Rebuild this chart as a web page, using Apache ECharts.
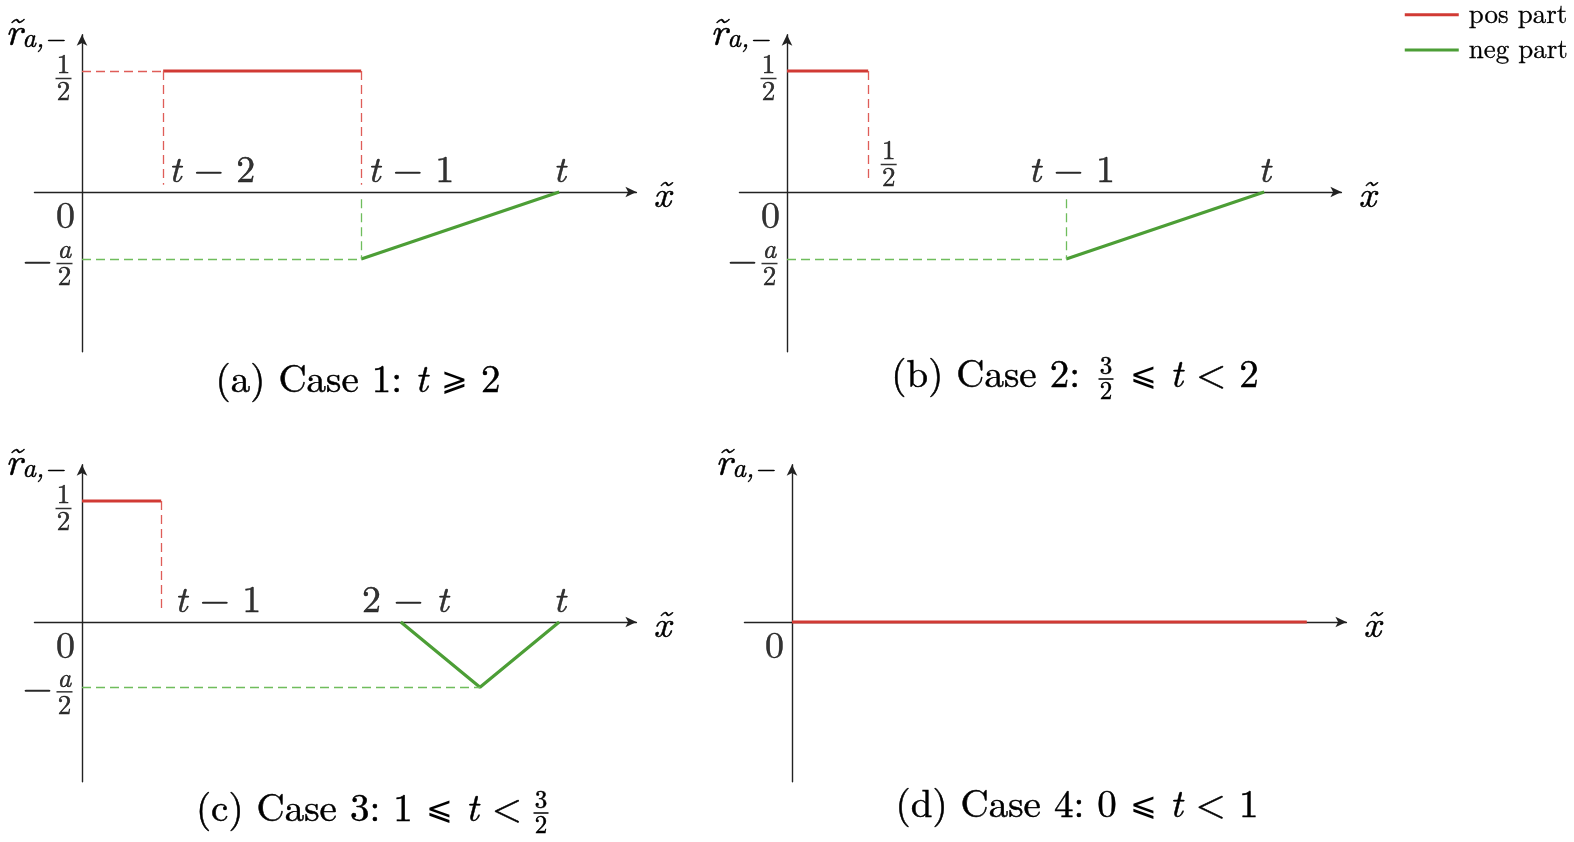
<!DOCTYPE html>
<html>
<head>
<meta charset="utf-8">
<title>r tilde cases</title>
<script src="https://cdn.jsdelivr.net/npm/echarts@6/dist/echarts.min.js"></script>
<style>
  html, body { margin: 0; padding: 0; background: #fff; }
  #chart { width: 1574px; height: 842px; }
</style>
</head>
<body>
<div id="chart"></div>
<script>
// data (x in drawing units, t is drawn at 2.41 in every case)
const tickPosA = [0.41, 1.41, 2.41];
const tickTextA = ['t − 2', 't − 1', 't'];
const posA = [[0.41, 0.5], [1.41, 0.5]];
const negA = [[1.41, -0.277], [2.41, 0]];

const tickPosB = [0.41, 1.41, 2.41];
const tickTextB = ['1/2', 't − 1', 't'];
const posB = [[0, 0.5], [0.41, 0.5]];
const negB = [[1.41, -0.277], [2.41, 0]];

const tickPosC = [0.40, 1.61, 2.41];
const tickTextC = ['t − 1', '2 − t', 't'];
const posC = [[0, 0.5], [0.40, 0.5]];
const negC = [[1.61, 0], [2.01, -0.27], [2.41, 0]];

const posD = [[0, 0], [2.60, 0]];

const yTickPos = [0.5, 0, -0.277];
const yTickText = ['1/2', '0', '−a/2'];
const yTickPosC = [0.5, 0, -0.27];

const captions = ['(a) Case 1: t ⩾ 2', '(b) Case 2: 3/2 ⩽ t < 2', '(c) Case 3: 1 ⩽ t < 3/2', '(d) Case 4: 0 ⩽ t < 1'];

const FONT = '"Latin Modern Roman", "Liberation Serif", "DejaVu Serif", serif';
const RED = '#d13a34', GREEN = '#4c9e36', RED_D = '#df5d58', GREEN_D = '#6fbd5c';
const AXIS = '#222';
const INK = '#000';
// slight stroke so the thin serif reads as dark as the original
const EMB = { textBorderColor: INK, textBorderWidth: 0.5 };
const EMB_G = { stroke: INK, lineWidth: 0.5 };

const chart = echarts.init(document.getElementById('chart'));

// pixel boxes of the four panels (origin x, x-axis y)
const boxes = [
  { ox: 82, oy: 192 },
  { ox: 787, oy: 192 },
  { ox: 82, oy: 622 },
  { ox: 792, oy: 622 }
];
const UX = 198, UY = 242, XMIN = -0.24, XMAX = 2.8, YMIN = -0.66, YMAX = 0.65;

const rich = {
  i: Object.assign({ fontFamily: FONT, fontStyle: 'italic', fontSize: 38, color: INK }, EMB),
  r: Object.assign({ fontFamily: FONT, fontSize: 38, color: INK }, EMB),
  fn: Object.assign({ fontFamily: FONT, fontSize: 27, lineHeight: 21, align: 'center', color: INK }, EMB),
  fi: Object.assign({ fontFamily: FONT, fontSize: 27, fontStyle: 'italic', lineHeight: 21, align: 'center', color: INK }, EMB),
  fb: { width: 16, height: 1.5, backgroundColor: INK, lineHeight: 6 }
};

// turn plain math text into rich tokens
function math(s) {
  if (s.indexOf('/') >= 0 && s.length <= 4) {
    const p = s.replace('−', '').split('/');
    const st = /[a-z]/.test(p[0]) ? 'fi' : 'fn';
    return '{' + st + '|' + p[0] + '}\n{fb| }\n{fn|' + p[1] + '}';
  }
  return s.split(/([a-z])/).filter(x => x).map(x => /^[a-z]$/.test(x) ? '{i|' + x + '}' : '{r|' + x + '}').join('');
}

const grids = [], xAxes = [], yAxes = [], series = [];
boxes.forEach((b, k) => {
  grids.push({
    left: b.ox + XMIN * UX, width: (XMAX - XMIN) * UX,
    top: b.oy - YMAX * UY, height: (YMAX - YMIN) * UY
  });
  xAxes.push({
    gridIndex: k, type: 'value', min: XMIN, max: XMAX,
    axisLine: { onZero: true, symbol: ['none', 'arrow'], symbolSize: [8, 11], lineStyle: { color: AXIS, width: 1.4 } },
    axisTick: { show: false }, axisLabel: { show: false }, splitLine: { show: false },
    name: '{i|x\u0303}', nameLocation: 'end', nameGap: 17,
    nameTextStyle: { rich: rich, verticalAlign: 'middle', padding: [6, 0, 0, 0] }
  });
  yAxes.push({
    gridIndex: k, type: 'value', min: YMIN, max: YMAX,
    axisLine: { onZero: true, symbol: ['none', 'arrow'], symbolSize: [8, 11], lineStyle: { color: AXIS, width: 1.4 } },
    axisTick: { show: false }, axisLabel: { show: false }, splitLine: { show: false },
    name: '{i|r\u0303}{s|a,−}', nameLocation: 'end', nameGap: 2,
    nameTextStyle: {
      align: 'right', verticalAlign: 'middle', padding: [0, 17, 0, 0],
      rich: {
        i: Object.assign({ fontFamily: FONT, fontStyle: 'italic', fontSize: 40, lineHeight: 40, color: INK }, EMB),
        s: Object.assign({ fontFamily: FONT, fontStyle: 'italic', fontSize: 27, lineHeight: 40, verticalAlign: 'bottom', padding: [16, 0, 0, 0], color: INK }, EMB)
      }
    }
  });
});

function dashLine(pairs, color) {
  return {
    silent: true, symbol: 'none', animation: false,
    label: { show: false },
    lineStyle: { color: color, width: 1.3, type: [9, 5] },
    data: pairs.map(p => [{ coord: p[0] }, { coord: p[1] }])
  };
}

function solid(name, data, k, color, guides) {
  const s = {
    name: name, type: 'line', xAxisIndex: k, yAxisIndex: k, data: data,
    symbol: 'none', lineStyle: { color: color, width: 3.2 }, itemStyle: { color: color },
    z: 3
  };
  if (guides) s.markLine = guides;
  return s;
}

// guide lines (dashed)
series.push(solid('pos part', posA, 0, RED, dashLine([
  [[0, 0.5], [0.41, 0.5]], [[0.41, 0.5], [0.41, 0.03]], [[1.41, 0.5], [1.41, 0.03]]
], RED_D)));
series.push(solid('neg part', negA, 0, GREEN, dashLine([
  [[0, -0.277], [1.41, -0.277]], [[1.41, -0.03], [1.41, -0.277]]
], GREEN_D)));
series.push(solid('pos part', posB, 1, RED, dashLine([
  [[0.41, 0.5], [0.41, 0.04]]
], RED_D)));
series.push(solid('neg part', negB, 1, GREEN, dashLine([
  [[0, -0.277], [1.41, -0.277]], [[1.41, -0.03], [1.41, -0.277]]
], GREEN_D)));
series.push(solid('pos part', posC, 2, RED, dashLine([
  [[0.40, 0.5], [0.40, 0.04]]
], RED_D)));
series.push(solid('neg part', negC, 2, GREEN, dashLine([
  [[0, -0.27], [2.01, -0.27]]
], GREEN_D)));
series.push(solid('pos part', posD, 3, RED));

// label placements (offset in px from the anchor point)
function labelSeries(k, items) {
  return {
    type: 'scatter', xAxisIndex: k, yAxisIndex: k, symbolSize: 1,
    itemStyle: { color: 'transparent' }, silent: true, z: 4,
    data: items.map(it => ({
      value: it.v,
      label: {
        show: true, position: it.off, align: it.align || 'center', verticalAlign: 'middle',
        formatter: it.text, rich: rich, color: INK
      }
    }))
  };
}

const xOffA = [{ off: [6, -21], align: 'left' }, { off: [7, -21], align: 'left' }, { off: [1, -21] }];
const xOffB = [{ off: [21, -27] }, { off: [6, -21] }, { off: [1, -21] }];
const xOffC = [{ off: [14, -21], align: 'left' }, { off: [5, -21] }, { off: [1, -21] }];
const yOff = [{ off: [-18, 8] }, { off: [-16, 25] }, { off: [-17, 5] }];

function xItems(pos, text, offs) {
  return pos.map((p, i) => Object.assign({ v: [p, 0], text: math(text[i]) }, offs[i]));
}
function yItems(pos) {
  const out = pos.map((p, i) => Object.assign({ v: [0, p], text: math(yTickText[i]) }, yOff[i]));
  out.push({ v: [0, pos[2]], text: '{r|−}', off: [-44, 2] });
  return out;
}
series.push(labelSeries(0, xItems(tickPosA, tickTextA, xOffA).concat(yItems(yTickPos))));
series.push(labelSeries(1, xItems(tickPosB, tickTextB, xOffB).concat(yItems(yTickPos))));
series.push(labelSeries(2, xItems(tickPosC, tickTextC, xOffC).concat(yItems(yTickPosC))));
series.push(labelSeries(3, [{ v: [0, 0], text: '{r|0}', off: [-17, 25] }]));

// captions
const CAP = 39;
const capRich = {
  r: Object.assign({ fontFamily: FONT, fontSize: CAP, fill: INK }, EMB_G),
  i: Object.assign({ fontFamily: FONT, fontSize: CAP, fontStyle: 'italic', fill: INK }, EMB_G),
  g: { fontFamily: FONT, fontSize: CAP - 7, fill: INK },
  cn: Object.assign({ fontFamily: FONT, fontSize: 25, lineHeight: 19, align: 'center', fill: INK }, EMB_G),
  cb: { width: 15, height: 1.5, backgroundColor: INK, lineHeight: 6 }
};
function capText(s) {
  return s.split(/( t |⩽|⩾)/).filter(x => x).map(x => {
    if (x === ' t ') return '{r| }{i|t}{r| }';
    if (x === '⩽' || x === '⩾') return '{g|' + x + '}';
    return '{r|' + x + '}';
  }).join('');
}
function fracText(s) {
  const p = s.split('/');
  return '{cn|' + p[0] + '}\n{cb| }\n{cn|' + p[1] + '}';
}
const capB = captions[1].split('3/2');
const capC = captions[2].split('3/2');
const graphic = [
  { type: 'text', x: 358, y: 380, style: { text: capText(captions[0]), rich: capRich, align: 'center', verticalAlign: 'middle' } },
  { type: 'text', x: 1080, y: 375, style: { text: capText(capB[0].trim()), rich: capRich, align: 'right', verticalAlign: 'middle' } },
  { type: 'text', x: 1106, y: 379, style: { text: fracText('3/2'), rich: capRich, align: 'center', verticalAlign: 'middle' } },
  { type: 'text', x: 1130, y: 375, style: { text: capText(capB[1].trim()), rich: capRich, align: 'left', verticalAlign: 'middle' } },
  { type: 'text', x: 522, y: 809, style: { text: capText(capC[0].trim()), rich: capRich, align: 'right', verticalAlign: 'middle' } },
  { type: 'text', x: 541, y: 813, style: { text: fracText('3/2'), rich: capRich, align: 'center', verticalAlign: 'middle' } },
  { type: 'text', x: 1077, y: 805, style: { text: capText(captions[3]), rich: capRich, align: 'center', verticalAlign: 'middle' } }
];

chart.setOption({
  animation: false,
  backgroundColor: '#fff',
  legend: {
    data: ['pos part', 'neg part'], orient: 'vertical', right: 6, top: 1, padding: 0,
    icon: 'rect', itemWidth: 54, itemHeight: 3, itemGap: 8, selectedMode: false,
    textStyle: { fontFamily: FONT, fontSize: 27, color: INK, padding: [0, 0, 0, 5], textBorderColor: INK, textBorderWidth: 0.3 }
  },
  grid: grids, xAxis: xAxes, yAxis: yAxes, series: series, graphic: graphic
});
window.addEventListener('resize', () => chart.resize());
</script>
</body>
</html>
